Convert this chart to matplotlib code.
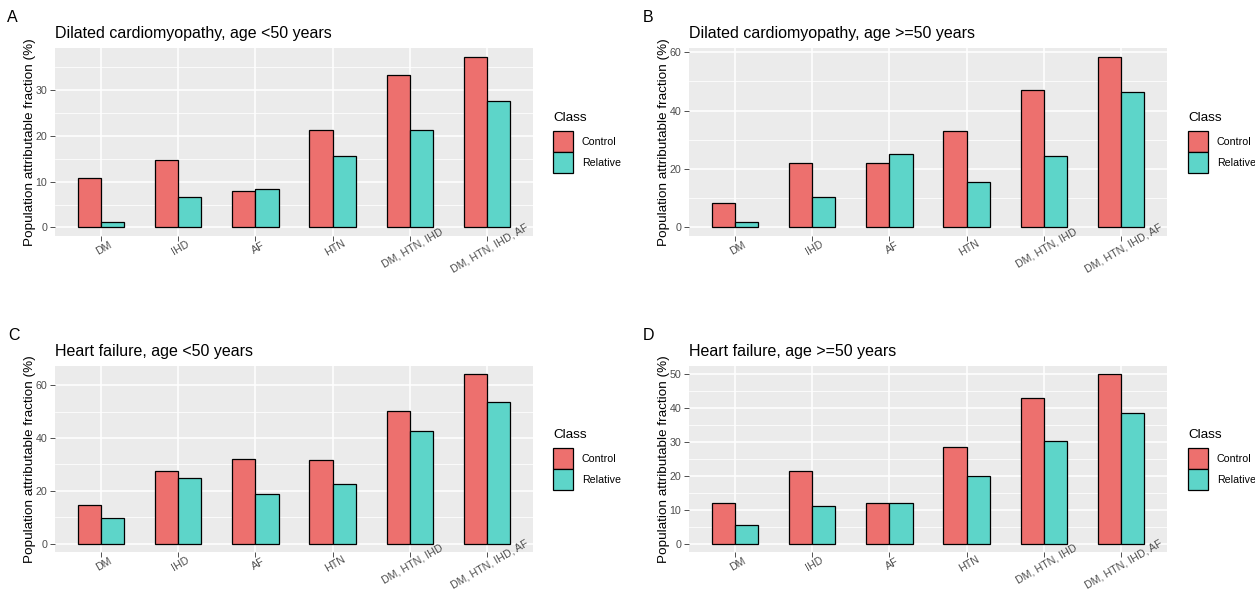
import numpy as np
import matplotlib
matplotlib.use("Agg")
import matplotlib.pyplot as plt
from matplotlib.patches import Patch
from matplotlib.ticker import MultipleLocator
from matplotlib.transforms import offset_copy

categories = ["DM", "IHD", "AF", "HTN", "DM, HTN, IHD", "DM, HTN, IHD, AF"]
classes = ["Control", "Relative"]

dcm_young_control = [10.7, 14.7, 8.0, 21.3, 33.3, 37.3]
dcm_young_relative = [1.1, 6.7, 8.3, 15.6, 21.3, 27.7]
dcm_old_control = [8.2, 21.9, 21.9, 33.1, 47.2, 58.5]
dcm_old_relative = [1.8, 10.5, 25.1, 15.7, 24.3, 46.4]
hf_young_control = [14.6, 27.6, 32.0, 31.7, 50.3, 64.1]
hf_young_relative = [9.5, 24.9, 18.8, 22.7, 42.5, 53.6]
hf_old_control = [12.0, 21.4, 12.0, 28.6, 43.0, 50.0]
hf_old_relative = [5.5, 11.0, 11.9, 20.1, 30.3, 38.5]

titles = ["Dilated cardiomyopathy, age <50 years",
          "Dilated cardiomyopathy, age >=50 years",
          "Heart failure, age <50 years",
          "Heart failure, age >=50 years"]
letters = ["A", "B", "C", "D"]
y_steps = [10, 20, 20, 10]

colors = ["#ED706E", "#5DD5C9"]
FONT = "Liberation Sans"
W, H = 1255, 589

plt.rcParams["font.family"] = [FONT, "DejaVu Sans"]


def px_axes(fig, left, top, right, bottom):
    return fig.add_axes([left / W, 1 - bottom / H, (right - left) / W, (bottom - top) / H])


def draw_panel(fig, box, control, relative, title, letter, step, letter_xy, legend_xy):
    ax = px_axes(fig, *box)
    x = np.arange(1, len(categories) + 1)
    width = 0.3
    ax.bar(x - width / 2, control, width, color=colors[0], edgecolor="black", linewidth=0.9, zorder=3)
    ax.bar(x + width / 2, relative, width, color=colors[1], edgecolor="black", linewidth=0.9, zorder=3)

    top = max(max(control), max(relative))
    ax.set_ylim(-0.05 * top, 1.05 * top)
    ax.set_xlim(0.4, len(categories) + 0.6)

    ax.set_facecolor("#EBEBEB")
    for s in ax.spines.values():
        s.set_visible(False)
    ax.yaxis.set_major_locator(MultipleLocator(step))
    ax.yaxis.set_minor_locator(MultipleLocator(step / 2))
    ax.grid(which="major", color="white", linewidth=1.1, zorder=0)
    ax.grid(which="minor", axis="y", color="white", linewidth=0.55, zorder=0)
    ax.set_axisbelow(True)

    ax.set_xticks(x)
    ax.set_xticklabels([])
    ax.tick_params(which="major", length=3.5, width=0.6, color="#333333",
                   labelcolor="#4D4D4D", labelsize=7.7, pad=2)
    ax.tick_params(which="minor", length=0)
    # rotated category labels, drawn as free text so they can overlap the panel
    trans = offset_copy(ax.get_xaxis_transform(), fig=fig, y=-5.5, units="points")
    for xi, lab in zip(x, categories):
        ax.text(xi, 0, lab, transform=trans, rotation=30, rotation_mode="anchor",
                ha="center", va="top", fontsize=7.7, color="#4D4D4D",
                clip_on=False, zorder=10)

    ax.set_ylabel("Population attributable fraction (%)", fontsize=9.7, labelpad=0)
    ax.set_title(title, loc="left", fontsize=11.5, pad=7)
    fig.text(letter_xy[0] / W, 1 - letter_xy[1] / H, letter, fontsize=11.5,
             ha="center", va="center")

    handles = [Patch(facecolor=c, edgecolor="black", linewidth=0.9, label=l)
               for c, l in zip(colors, classes)]
    leg = ax.legend(handles=handles, title="Class", loc="upper left",
                    bbox_to_anchor=(legend_xy[0] / W, 1 - legend_xy[1] / H),
                    bbox_transform=fig.transFigure, frameon=False, fontsize=7.7,
                    title_fontsize=9.7, alignment="left", borderpad=0, borderaxespad=0,
                    handlelength=1.85, handleheight=2.64, labelspacing=0, handletextpad=0.85)
    # gap between the legend title and the keys
    leg._legend_box.sep = 5
    return ax


def main():
    fig = plt.figure(figsize=(W / 100, H / 100), dpi=100)
    fig.patch.set_facecolor("white")

    panels = [
        ((55, 48, 533, 236), dcm_young_control, dcm_young_relative, (12, 18), (553, 112)),
        ((689, 48, 1167, 236), dcm_old_control, dcm_old_relative, (648, 18), (1188, 112)),
        ((55, 366, 533, 552), hf_young_control, hf_young_relative, (14, 335), (553, 429)),
        ((689, 366, 1167, 552), hf_old_control, hf_old_relative, (648, 335), (1188, 429)),
    ]
    for i, (box, ctrl, rel, lxy, legxy) in enumerate(panels):
        draw_panel(fig, box, ctrl, rel, titles[i], letters[i], y_steps[i], lxy, legxy)

    fig.savefig("out.png", dpi=100)


if __name__ == "__main__":
    main()
